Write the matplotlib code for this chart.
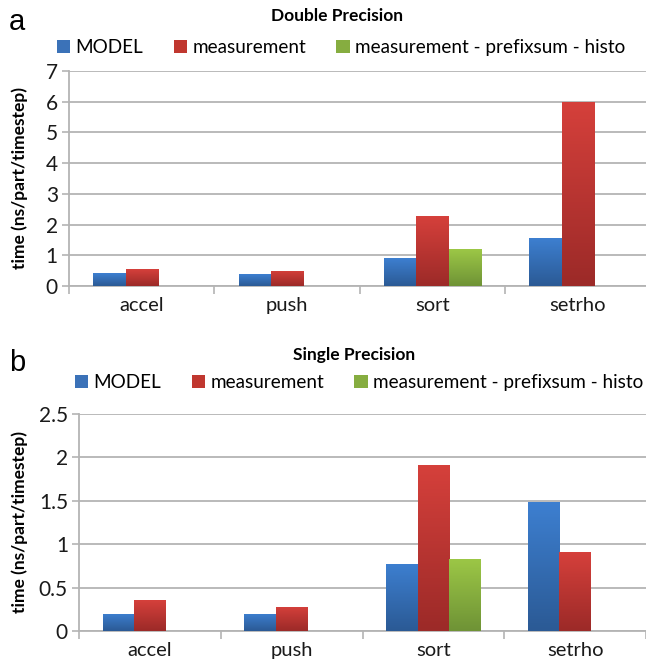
import numpy as np
import matplotlib.pyplot as plt
from matplotlib.patches import Patch
from matplotlib.colors import LinearSegmentedColormap

plt.rcParams['font.family'] = ['Lato', 'DejaVu Sans']

# data
kernels = ['accel', 'push', 'sort', 'setrho']
series = ['MODEL', 'measurement', 'measurement - prefixsum - histo']

double_model = [0.41, 0.39, 0.90, 1.55]
double_meas = [0.55, 0.50, 2.27, 6.00]
double_histo = [np.nan, np.nan, 1.19, np.nan]

single_model = [0.20, 0.196, 0.773, 1.485]
single_meas = [0.355, 0.277, 1.91, 0.908]
single_histo = [np.nan, np.nan, 0.831, np.nan]

# (light top, dark bottom) excel-ish gradients
colors = [('#3d7fd0', '#2b5a95'), ('#d5403b', '#9c2a28'), ('#9cc746', '#6f9336')]
legend_colors = ['#3b72b8', '#c0372f', '#86ad40']

GRID = '#b4b4b4'


def gradient_bars(ax, x, heights, width, cols):
    cmap = LinearSegmentedColormap.from_list('g', [cols[1], cols[0]])
    bars = ax.bar(x, heights, width, color='none', edgecolor='none', zorder=3)
    grad = np.linspace(0, 1, 64).reshape(-1, 1)
    for b in bars:
        h = b.get_height()
        if not np.isfinite(h) or h <= 0:
            continue
        x0 = b.get_x()
        im = ax.imshow(grad, cmap=cmap, origin='lower', aspect='auto',
                       extent=[x0, x0 + b.get_width(), 0, h], zorder=3)
        im.set_clip_path(b)
    return bars


def panel(ax, model, meas, histo, ymax, ystep):
    x = np.arange(len(kernels))
    w = 0.222
    for k, vals in enumerate([model, meas, histo]):
        gradient_bars(ax, x + (k - 1) * w, vals, w, colors[k])
    ax.set_xlim(-0.5, len(kernels) - 0.5)
    ax.set_ylim(0, ymax)
    yt = np.arange(0, ymax + 1e-9, ystep)
    ax.set_yticks(yt)
    ax.set_yticklabels(['%g' % v for v in yt], fontsize=15, color='#1a1a1a')
    ax.yaxis.grid(True, color=GRID, lw=1.3, zorder=0)
    ax.set_axisbelow(True)
    ax.set_xticks(x)
    ax.set_xticklabels(kernels, fontsize=14.5, color='#1a1a1a')
    ax.set_xticks(np.arange(-0.5, len(kernels)), minor=True)
    ax.tick_params(axis='x', which='major', length=0, pad=8)
    ax.tick_params(axis='x', which='minor', length=6, width=1.2, color=GRID)
    ax.tick_params(axis='y', length=5, width=1.2, color=GRID, pad=3)
    for s in ['top', 'right']:
        ax.spines[s].set_visible(False)
    for s in ['left', 'bottom']:
        ax.spines[s].set_color(GRID)
        ax.spines[s].set_linewidth(1.3)


fig = plt.figure(figsize=(6.46, 6.66), dpi=100)
ax1 = fig.add_axes([0.1068, 0.5706, 0.9, 0.3228])
ax2 = fig.add_axes([0.1223, 0.0526, 0.8777, 0.3258])

panel(ax1, double_model, double_meas, double_histo, 7, 1)
panel(ax2, single_model, single_meas, single_histo, 2.5, 0.5)

handles = [Patch(facecolor=c, edgecolor='none', label=s) for c, s in zip(legend_colors, series)]
fig.legend(handles=handles, loc='center', bbox_to_anchor=(0.528, 0.929), ncol=3,
           frameon=False, fontsize=13.6, handlelength=0.7, handleheight=0.7,
           handletextpad=0.3, columnspacing=1.6)
fig.legend(handles=handles, loc='center', bbox_to_anchor=(0.556, 0.426), ncol=3,
           frameon=False, fontsize=13.6, handlelength=0.7, handleheight=0.7,
           handletextpad=0.3, columnspacing=1.6)

fig.text(0.522, 1 - 16 / 666, 'Double Precision', fontsize=12.5, fontweight='bold',
         ha='center', va='center')
fig.text(0.548, 1 - 355 / 666, 'Single Precision', fontsize=12.5, fontweight='bold',
         ha='center', va='center')

for ax in (ax1, ax2):
    pos = ax.get_position()
    fig.text(0.031, pos.y0 + pos.height / 2, 'time (ns/part/timestep)', rotation=90,
             fontsize=12.5, fontweight='bold', ha='center', va='center')

fig.text(0.026, 1 - 22 / 666, 'a', fontsize=21, family='Liberation Sans',
         ha='center', va='center')
fig.text(0.026, 1 - 363 / 666, 'b', fontsize=21, family='Liberation Sans',
         ha='center', va='center')

fig.savefig('out.png', dpi=100)
